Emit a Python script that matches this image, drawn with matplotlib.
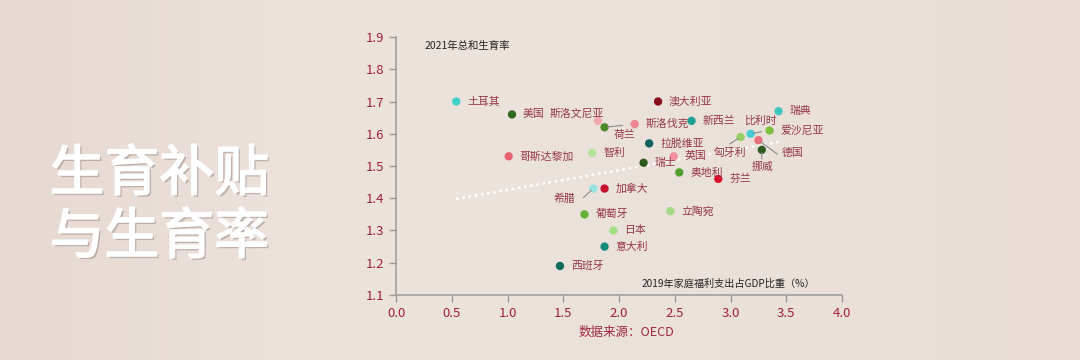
import numpy as np
import matplotlib
matplotlib.use("Agg")
import matplotlib.pyplot as plt
import matplotlib.patheffects as pe

plt.rcParams['font.family'] = ['Noto Sans CJK SC', 'DejaVu Sans']

# =========================================================
# DATA
# =========================================================
countries = ["土耳其", "美国", "斯洛文尼亚", "荷兰", "哥斯达黎加", "智利",
             "澳大利亚", "斯洛伐克", "新西兰", "瑞典", "比利时", "爱沙尼亚",
             "匈牙利", "德国", "挪威", "拉脱维亚", "英国", "瑞士", "奥地利",
             "芬兰", "加拿大", "希腊", "葡萄牙", "日本", "意大利", "西班牙",
             "立陶宛"]
welfare_gdp = [0.54, 1.04, 1.81, 1.87, 1.01, 1.76,
               2.35, 2.14, 2.65, 3.43, 3.18, 3.35,
               3.09, 3.25, 3.28, 2.27, 2.49, 2.22, 2.54,
               2.89, 1.87, 1.77, 1.69, 1.95, 1.87, 1.47,
               2.46]
fertility = [1.70, 1.66, 1.64, 1.62, 1.53, 1.54,
             1.70, 1.63, 1.64, 1.67, 1.60, 1.61,
             1.59, 1.58, 1.55, 1.57, 1.53, 1.51, 1.48,
             1.46, 1.43, 1.43, 1.35, 1.30, 1.25, 1.19,
             1.36]
colors = ["#3fd3c9", "#2f6b1f", "#f3a6ad", "#4a8a2c", "#e8606f", "#b4e29a",
          "#8c0c1e", "#ef8694", "#1ea096", "#3cc8be", "#45cbd3", "#7cc23e",
          "#94d266", "#e86d7d", "#2e5e1f", "#0f6262", "#f290a0", "#2d5a1d", "#4fa02f",
          "#d8102e", "#c5122f", "#96e2e2", "#62b232", "#a2e082", "#128a7c", "#0f6a5a",
          "#a3d985"]

# trend line
trend_slope = 0.061
trend_intercept = 1.365

x_ticks = [0.0, 0.5, 1.0, 1.5, 2.0, 2.5, 3.0, 3.5, 4.0]
y_ticks = [1.1, 1.2, 1.3, 1.4, 1.5, 1.6, 1.7, 1.8, 1.9]

# label placement: (dx, dy) in pixels, horizontal alignment, leader line end
label_pos = {
    "斯洛文尼亚": (6, 7, "right", None),
    "荷兰": (9, -7, "left", (18, 2)),
    "比利时": (10, 13, "center", (11, 2)),
    "匈牙利": (-11, -16, "center", (-11, -7)),
    "德国": (23, -13, "left", (19, -14)),
    "挪威": (1, -17, "center", (0, -9)),
    "希腊": (-18, -10, "right", (-10, -9)),
}

LABEL_COLOR = "#963646"
TICK_COLOR = "#a3213c"
BG = "#ebe0da"

# =========================================================
# FIGURE
# =========================================================
fig = plt.figure(figsize=(10.8, 3.6), dpi=100, facecolor=BG)

# soft background gradient
bg_ax = fig.add_axes([0, 0, 1, 1], zorder=-10)
grad = np.linspace(0, 1, 256)[None, :]
bg_ax.imshow(grad, aspect="auto", cmap=matplotlib.colors.LinearSegmentedColormap.from_list(
    "bg", ["#e6d9d2", "#ede3dd", "#ebe1db", "#e9ddd6"]), extent=[0, 1, 0, 1])
bg_ax.axis("off")

ax = fig.add_axes([0.3667, 0.1806, 0.4130, 0.7166])
ax.set_facecolor("none")

ax.scatter(welfare_gdp, fertility, s=36, c=colors, zorder=3, linewidths=0)

xs = np.array([min(welfare_gdp), max(welfare_gdp)])
ax.plot(xs, trend_intercept + trend_slope * xs, color="white", lw=1.8,
        linestyle=(0, (1, 1.5)), zorder=2)

for name, x, y in zip(countries, welfare_gdp, fertility):
    dx, dy, ha, leader = label_pos.get(name, (11, 0, "left", None))
    ax.annotate(name, (x, y), xytext=(dx, dy), textcoords="offset pixels",
                ha=ha, va="center", fontsize=7.8, color=LABEL_COLOR, zorder=4)
    if leader is not None:
        ax.annotate("", (x, y), xytext=leader, textcoords="offset pixels",
                    arrowprops=dict(arrowstyle="-", color="#8a8a8a", lw=0.8,
                                    shrinkA=0, shrinkB=2))

ax.set_xlim(0, 4.0)
ax.set_ylim(1.1, 1.9)
ax.set_xticks(x_ticks)
ax.set_yticks(y_ticks)
ax.set_xticklabels([f"{t:.1f}" for t in x_ticks])
ax.set_yticklabels([f"{t:.1f}" for t in y_ticks])
ax.tick_params(colors="#999999", labelcolor=TICK_COLOR, labelsize=9.5,
               length=5, width=1)
for s in ["top", "right"]:
    ax.spines[s].set_visible(False)
for s in ["left", "bottom"]:
    ax.spines[s].set_color("#a0a0a0")
    ax.spines[s].set_linewidth(1.2)

ax.text(0.065, 0.965, "2021年总和生育率", transform=ax.transAxes,
        fontsize=7.5, color="#222222", va="center", ha="left")
ax.text(0.94, 0.043, "2019年家庭福利支出占GDP比重（%）", transform=ax.transAxes,
        fontsize=7.3, color="#222222", va="center", ha="right")

fig.text(0.580, 0.077, "数据来源：OECD", fontsize=9, color="#a0283e",
         ha="center", va="center")

# big title on the left (regular weight, slightly thickened with a stroke)
shadow = [pe.withSimplePatchShadow(offset=(1.5, -1.5), shadow_rgbFace="#8a7a74", alpha=0.45),
          pe.withStroke(linewidth=1.2, foreground="white")]
fig.text(0.046, 0.515, "生育补贴", fontsize=39.5, color="white", ha="left",
         va="center", path_effects=shadow)
fig.text(0.046, 0.34, "与生育率", fontsize=39.5, color="white", ha="left",
         va="center", path_effects=shadow)

fig.savefig("out.png", dpi=100, facecolor=BG)
